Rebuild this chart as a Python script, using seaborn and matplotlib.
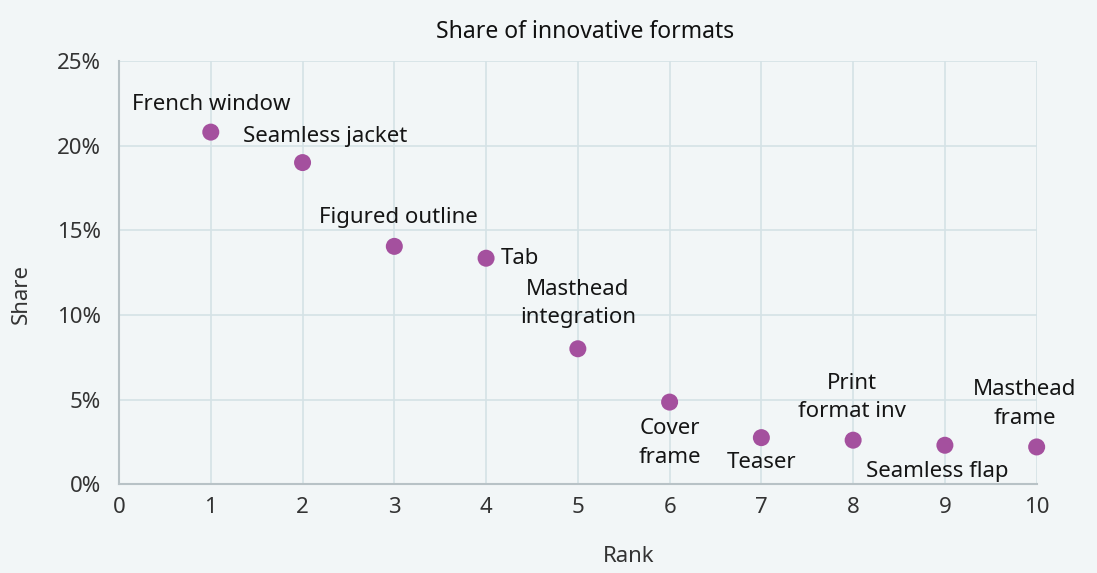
import matplotlib
matplotlib.use("Agg")
import matplotlib.pyplot as plt
import seaborn as sns
import pandas as pd

# data
ranks = [1, 2, 3, 4, 5, 6, 7, 8, 9, 10]
shares = [20.8, 19.0, 14.05, 13.35, 8.0, 4.85, 2.75, 2.6, 2.3, 2.2]
names = ["French window", "Seamless jacket", "Figured outline", "Tab",
         "Masthead\nintegration", "Cover\nframe", "Teaser", "Print\nformat inv",
         "Seamless flap", "Masthead\nframe"]
x_ticks = [0, 1, 2, 3, 4, 5, 6, 7, 8, 9, 10]
y_ticks = [0, 5, 10, 15, 20, 25]

df = pd.DataFrame({"Rank": ranks, "Share": shares, "Name": names})

bg = "#f2f6f7"
grid_col = "#d5e2e6"
point_col = "#a4509e"

sns.set_theme(style="whitegrid")
plt.rcParams["font.family"] = ["Noto Sans", "DejaVu Sans"]

fig = plt.figure(figsize=(10.97, 5.73), dpi=100, facecolor=bg)
ax = fig.add_axes([0.1085, 0.155, 0.8365, 0.7385])
ax.set_facecolor(bg)

sns.scatterplot(data=df, x="Rank", y="Share", ax=ax, color=point_col,
                s=150, edgecolor="none", zorder=3, clip_on=False)

# label offsets in pixels (dx, dy) and alignment
offsets = {
    "French window": (0, 28, "center"),
    "Seamless jacket": (23, 26, "center"),
    "Figured outline": (4, 29, "center"),
    "Tab": (15, 0, "left"),
    "Masthead\nintegration": (0, 45, "center"),
    "Cover\nframe": (0, -41, "center"),
    "Teaser": (0, -25, "center"),
    "Print\nformat inv": (-1, 43, "center"),
    "Seamless flap": (-8, -26, "center"),
    "Masthead\nframe": (-12, 43, "center"),
}
for r, s, n in zip(ranks, shares, names):
    dx, dy, ha = offsets[n]
    ax.annotate(n, (r, s), xytext=(dx, dy), textcoords="offset pixels",
                ha=ha, va="center", fontsize=16, color="#151515",
                linespacing=1.45)

ax.set_xlim(0, 10)
ax.set_ylim(0, 25)
ax.set_xticks(x_ticks)
ax.set_yticks(y_ticks)
ax.set_yticklabels([f"{v}%" for v in y_ticks])
ax.tick_params(axis="both", labelsize=16, labelcolor="#333333", length=0)
ax.tick_params(axis="x", pad=9)
ax.tick_params(axis="y", pad=13)

ax.grid(True, color=grid_col, linewidth=1.2)
for side in ["top", "right"]:
    ax.spines[side].set_visible(False)
for side in ["left", "bottom"]:
    ax.spines[side].set_color("#b8c2c6")
    ax.spines[side].set_linewidth(1.5)

ax.set_xlabel("Rank", fontsize=16, color="#333333")
ax.xaxis.set_label_coords(0.555, -0.145)
ax.set_ylabel("Share", fontsize=16, color="#333333")
ax.yaxis.set_label_coords(-0.095, 0.45)
fig.suptitle("Share of innovative formats", fontsize=16.5, color="#111111",
             x=0.533, y=0.965)

fig.savefig("out.png", dpi=100, facecolor=bg)
